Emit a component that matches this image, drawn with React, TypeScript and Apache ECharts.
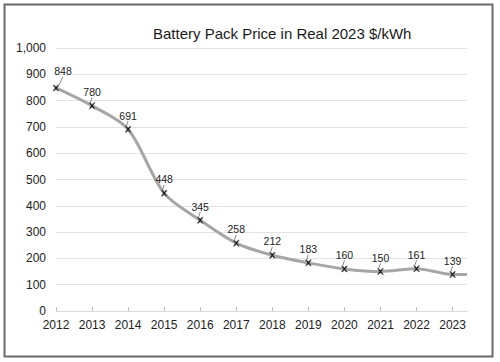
import React, { useEffect, useRef } from "react";
import * as echarts from "echarts";

const years = [2012, 2013, 2014, 2015, 2016, 2017, 2018, 2019, 2020, 2021, 2022, 2023];
const prices = [848, 780, 691, 448, 345, 258, 212, 183, 160, 150, 161, 139];
// the line runs on flat past the last year to the plot edge
const tailYear = 2023.4;
const tailPrice = 139;
const yTicks = [0, 100, 200, 300, 400, 500, 600, 700, 800, 900, 1000];

const FONT = "'Liberation Sans', Arial, sans-serif";

export default function App() {
  const ref = useRef<HTMLDivElement>(null);
  useEffect(() => {
    if (!ref.current) return;
    const chart = echarts.init(ref.current, null, { renderer: "svg" });
    const data: any[] = years.map((y, i) => [y, prices[i]]);
    data.push({ value: [tailYear, tailPrice], symbol: "none", label: { show: false } });
    chart.setOption({
      animation: false,
      backgroundColor: "#ffffff",
      textStyle: { fontFamily: FONT },
      title: {
        text: "Battery Pack Price in Real 2023 $/kWh",
        left: 148,
        top: 21,
        textStyle: { fontFamily: FONT, fontSize: 15, fontWeight: "normal", color: "#1a1a1a" },
      },
      graphic: [
        {
          type: "rect",
          shape: { x: 4.5, y: 4.5, width: 488, height: 352 },
          style: { fill: "none", stroke: "#6b6b6b", lineWidth: 2 },
          silent: true,
        },
      ],
      grid: { left: 56, right: 33, top: 48, bottom: 51, containLabel: false },
      xAxis: {
        type: "value",
        min: 2012,
        max: tailYear,
        interval: 1,
        axisLine: { show: true, lineStyle: { color: "#d9d9d9", width: 1 } },
        axisTick: { show: true, length: 4, lineStyle: { color: "#bfbfbf" }, customValues: years, inside: true },
        axisLabel: {
          customValues: years,
          formatter: (v: number) => String(v),
          color: "#222",
          fontSize: 12,
          fontFamily: FONT,
          margin: 8,
        },
        splitLine: { show: false },
      },
      yAxis: {
        type: "value",
        min: 0,
        max: 1000,
        interval: 100,
        axisLine: { show: false },
        axisTick: { show: false },
        axisLabel: {
          customValues: yTicks,
          formatter: (v: number) => v.toLocaleString("en-US"),
          color: "#222",
          fontSize: 12,
          fontFamily: FONT,
          margin: 10,
        },
        splitLine: { show: true, lineStyle: { color: "#e3e3e3", width: 1 } },
      },
      series: [
        {
          type: "line",
          data,
          smooth: 0.3,
          lineStyle: { color: "#a6a6a6", width: 3 },
          symbol: "path://M0,0L2,0L5,3L8,0L10,0L6.5,5L10,10L8,10L5,7L2,10L0,10L3.5,5Z",
          symbolSize: 6,
          itemStyle: { color: "#111", borderColor: "#777", borderWidth: 0.5 },
          label: {
            show: true,
            position: "top",
            distance: 5,
            color: "#222",
            fontSize: 10.5,
            fontFamily: FONT,
          },
          labelLine: { show: true, lineStyle: { color: "#888", width: 1 } },
          labelLayout: (params: any) => (params.dataIndex === 0 ? { dx: 7, dy: -3 } : {}),
          z: 3,
        },
      ],
    });
    return () => chart.dispose();
  }, []);
  return (
    <div
      ref={ref}
      style={{ position: "fixed", left: 0, top: 0, width: 500, height: 362, background: "#fff" }}
    />
  );
}
